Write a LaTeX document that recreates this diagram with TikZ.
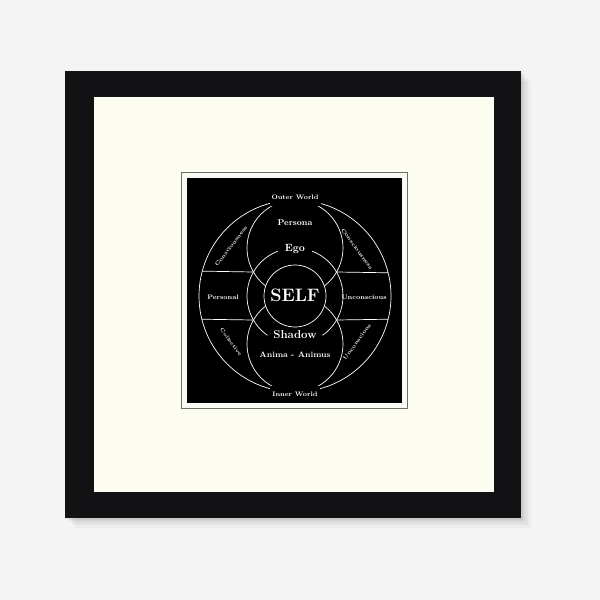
\documentclass[tikz,border=0pt]{standalone}
\definecolor{bgc}{RGB}{244,244,244}
\definecolor{framec}{RGB}{18,18,20}
\definecolor{matc}{RGB}{252,252,240}
\definecolor{edgec}{RGB}{110,110,105}
\definecolor{paperc}{RGB}{250,250,244}
\tikzset{
  ring/.style={circle, draw=white, line width=0.7pt, inner sep=0pt, outer sep=0pt},
  hollow/.style={circle, inner sep=0pt, outer sep=0pt},
  wline/.style={draw=white, line width=0.7pt},
  lab/.style={text=white, font=\bfseries, inner sep=0.5pt},
}
\begin{document}
\begin{tikzpicture}[x=1pt,y=-1pt]
\useasboundingbox (0,0) rectangle (600,600);
\fill[bgc] (0,0) rectangle (600,600);
% soft shadow of the frame
\foreach \d/\o in {10/0.03,7/0.04,4/0.05,2/0.06}{
  \fill[black,opacity=\o] (65,71) ++(\d,\d) rectangle (521+\d,518+\d);
}
\fill[framec] (65,71) rectangle (521,518);
\fill[matc] (94,97) rectangle (494,492);
\filldraw[fill=paperc, draw=edgec, line width=0.6pt] (181.5,172.5) rectangle (407.5,408);
\fill[black] (187,177.5) rectangle (402,403);

\coordinate (C) at (295,296);
\node[ring, minimum size=192pt] (outer) at (C) {};
\node[ring, minimum size=96pt] (top) at (295,248) {};
\node[ring, minimum size=96pt] (bot) at (295,344) {};
\node[hollow, minimum size=96pt] (mid) at (C) {};
% middle ring, broken at Ego and Shadow (y axis points down: angles negated)
\draw[wline] (mid.111) arc[start angle=-111, end angle=-235, radius=48];
\draw[wline] (mid.-55) arc[start angle=55, end angle=-69, radius=48];
% horizontal dividers
\draw[wline] (outer.165.5) -- (top.210);
\draw[wline] (top.-30) -- (outer.14.5);
\draw[wline] (outer.194.5) -- (bot.150);
\draw[wline] (bot.30) -- (outer.-14.5);
% SELF circle
\node[ring, fill=black, minimum size=62pt] (selfc) at (C) {};
\node[lab, font=\bfseries\fontsize{18}{18}\selectfont] (self) at (295,295) {SELF};

\node[lab, fill=black, anchor=base, inner xsep=2pt, text depth=6pt, font=\bfseries\fontsize{6.5}{7}\selectfont] (outw) at (295,199) {Outer World};
\node[lab, fill=black, anchor=base, inner xsep=2pt, text height=10pt, font=\bfseries\fontsize{6.5}{7}\selectfont] (innw) at (295,396) {Inner World};
\node[lab, font=\bfseries\fontsize{8.5}{9}\selectfont] (persona) at (295,223) {Persona};
\node[lab, font=\bfseries\fontsize{10.5}{11}\selectfont] (ego) at (295,249) {Ego};
\node[lab, font=\bfseries\fontsize{11.5}{12}\selectfont] (shadow) at (295,335) {Shadow};
\node[lab, font=\bfseries\fontsize{8}{9}\selectfont] (anima) at (295,355) {Anima - Animus};
\node[lab, font=\bfseries\fontsize{6.5}{7}\selectfont] (personal) at (223,297) {Personal};
\node[lab, font=\bfseries\fontsize{6.5}{7}\selectfont] (uncon) at (364,297) {Unconscious};
\node[lab, rotate=52.5, font=\bfseries\fontsize{5.3}{6}\selectfont] (consl) at (231,246) {Consciousness};
\node[lab, rotate=-54, font=\bfseries\fontsize{5.3}{6}\selectfont] (consr) at (357,249) {Consciousness};
\node[lab, rotate=-53, font=\bfseries\fontsize{5}{6}\selectfont] (coll) at (231,342) {Collective};
\node[lab, rotate=54, font=\bfseries\fontsize{5.3}{6}\selectfont] (uncr) at (357,342) {Unconscious};
\end{tikzpicture}
\end{document}
